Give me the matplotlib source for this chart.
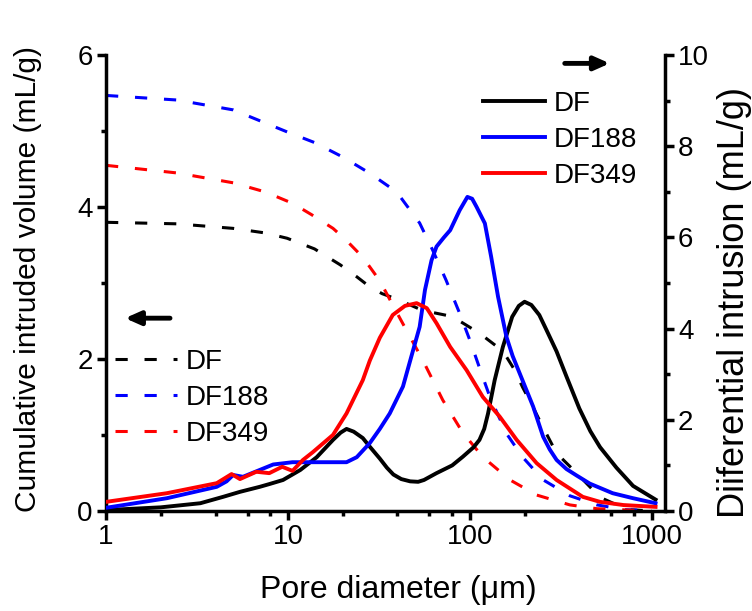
import matplotlib
matplotlib.use("Agg")
import matplotlib.pyplot as plt
from matplotlib.ticker import NullFormatter

plt.rcParams["font.family"] = ["Liberation Sans", "DejaVu Sans"]

# differential intrusion (right axis), solid lines
df_d = [1, 2, 3.3, 4.4, 5.45, 7, 7.9, 9.4, 11.7, 14.4, 17.7, 19.5, 21, 23, 25.8, 28.2,
        32, 35, 38, 42, 47, 52, 56, 65.6, 80, 91.5, 105, 113, 120, 126, 137, 152, 171,
        186, 200, 218, 241, 264, 300, 340, 400, 460, 520, 640, 790, 1050]
df_diff = [0.02, 0.08, 0.17, 0.31, 0.42, 0.53, 0.59, 0.68, 0.90, 1.18, 1.56, 1.72, 1.80,
           1.74, 1.6, 1.41, 1.15, 0.95, 0.80, 0.70, 0.65, 0.64, 0.68, 0.83, 1.0, 1.19,
           1.4, 1.56, 1.8, 2.14, 2.87, 3.6, 4.26, 4.5, 4.59, 4.52, 4.3, 3.97, 3.5, 2.95,
           2.25, 1.75, 1.4, 0.95, 0.55, 0.25]

df188_d = [1, 2.16, 4.06, 4.6, 5.0, 5.66, 7, 8.3, 10.6, 13.7, 21, 23.9, 28.2, 32, 36.3,
           42.9, 48.8, 53, 56.7, 61.6, 65.6, 72, 78, 88, 97, 103, 109, 121, 131, 143,
           159, 172, 188, 205, 223, 253, 275, 300, 340, 386, 457, 610, 790, 1050]
df188_diff = [0.07, 0.28, 0.53, 0.65, 0.79, 0.75, 0.9, 1.02, 1.07, 1.07, 1.07, 1.18,
              1.49, 1.8, 2.14, 2.73, 3.53, 4.04, 4.85, 5.5, 5.8, 6.0, 6.16, 6.6, 6.89,
              6.85, 6.67, 6.31, 5.58, 4.7, 3.82, 3.4, 3.02, 2.65, 2.29, 1.63, 1.35, 1.12,
              0.92, 0.78, 0.6, 0.39, 0.28, 0.17]

df349_d = [1, 2.16, 4.06, 4.9, 5.45, 6.7, 7.9, 9.3, 10.6, 12.1, 13.7, 17.7, 21, 25.8,
           28.2, 32, 37.7, 44, 51, 58, 65.6, 78, 96, 118, 146, 181, 233, 300, 418, 520,
           700, 1050]
df349_diff = [0.2, 0.39, 0.61, 0.81, 0.70, 0.86, 0.83, 0.97, 0.88, 1.12, 1.29, 1.67,
              2.14, 2.87, 3.3, 3.8, 4.3, 4.5, 4.56, 4.45, 4.12, 3.6, 3.09, 2.5, 2.07,
              1.56, 1.05, 0.68, 0.31, 0.2, 0.13, 0.09]

# cumulative intruded volume (left axis), dashed lines
df_cd = [1, 2.45, 5, 7.5, 9.9, 14, 19.4, 24, 28.2, 33, 39.6, 55, 80, 113, 140, 159, 177,
         195, 218, 241, 270, 300, 386, 520, 730, 1000]
df_cum = [3.80, 3.78, 3.72, 3.66, 3.59, 3.45, 3.24, 3.08, 2.95, 2.86, 2.79, 2.64, 2.56,
          2.34, 2.17, 2.03, 1.85, 1.63, 1.41, 1.2, 0.97, 0.76, 0.5, 0.18, 0.02, 0.0]

df188_cd = [1, 2.45, 5, 9.9, 14, 20, 28, 39.6, 53, 62.6, 74, 88, 100, 114, 129, 159, 195,
            253, 355, 500, 700, 1000]
df188_cum = [5.47, 5.41, 5.28, 4.99, 4.85, 4.66, 4.45, 4.2, 3.79, 3.43, 3.04, 2.6, 2.25,
             1.86, 1.5, 1.02, 0.71, 0.41, 0.2, 0.08, 0.02, 0.0]

df349_cd = [1, 2.45, 5, 7.5, 10.6, 13.5, 17.7, 21, 25.8, 32, 41, 55, 71, 91.5, 118, 166,
            233, 355, 500, 1000]
df349_cum = [4.55, 4.45, 4.32, 4.2, 4.05, 3.9, 3.72, 3.56, 3.34, 3.03, 2.55, 1.99, 1.46,
             1.03, 0.71, 0.41, 0.21, 0.08, 0.03, 0.0]

labels = ["DF", "DF188", "DF349"]
colors = ["black", "blue", "red"]

fig = plt.figure(figsize=(7.52, 6.11), dpi=100)
ax = fig.add_axes([0.141, 0.1637, 0.743, 0.746])
ax2 = ax.twinx()

dash = (0, (4, 5.5))
cum_sets = [(df_cd, df_cum), (df188_cd, df188_cum), (df349_cd, df349_cum)]
for (xd, yd), c, lab in zip(cum_sets, colors, labels):
    ax.plot(xd, yd, color=c, lw=2.2, linestyle=dash, label=lab)

diff_sets = [(df_d, df_diff), (df188_d, df188_diff), (df349_d, df349_diff)]
for (xd, yd), c, lab in zip(diff_sets, colors, labels):
    ax2.plot(xd, yd, color=c, lw=2.8, label=lab)

ax.set_xscale("log")
ax.set_xlim(1, 1180)
ax.set_ylim(0, 6)
ax2.set_ylim(0, 10)

ax.set_xticks([1, 10, 100, 1000], ["1", "10", "100", "1000"])
minor = [m * 10 ** k for k in range(3) for m in (2, 4, 6, 8)]
ax.set_xticks(minor, minor=True)
ax.xaxis.set_minor_formatter(NullFormatter())
ax.set_yticks([0, 2, 4, 6])
ax.set_yticks([1, 3, 5], minor=True)
ax2.set_yticks([0, 2, 4, 6, 8, 10])
ax2.set_yticks([1, 3, 5, 7, 9], minor=True)

for a in (ax, ax2):
    a.spines["top"].set_visible(False)
    for s in a.spines.values():
        s.set_linewidth(2.5)
    a.tick_params(which="major", direction="out", length=6.5, width=2.5,
                  labelsize=20, pad=3)
    a.tick_params(which="minor", direction="out", length=3.5, width=2.5)
ax.spines["right"].set_visible(False)
ax2.spines["left"].set_visible(False)
ax2.spines["bottom"].set_visible(False)

ax.set_xlabel("Pore diameter (\u03bcm)", fontsize=23)
ax.xaxis.set_label_coords(0.524, -0.14)
ax.set_ylabel("Cumulative intruded volume (mL/g)", fontsize=21.5)
ax.yaxis.set_label_coords(-0.115, 0.51)
ax2.set_ylabel("Diiferential intrusion (mL/g)", fontsize=26, labelpad=6)
ax2.yaxis.label.set_y(0.457)

leg_kw = dict(frameon=False, fontsize=20, handlelength=2.25, handletextpad=0.3,
              labelspacing=0.36, borderpad=0, borderaxespad=0, loc="upper left")
ax.legend(bbox_to_anchor=(0.016, 0.355), **leg_kw)
ax2.legend(bbox_to_anchor=(0.674, 0.921), **leg_kw)

# arrows pointing at the axis each family of curves belongs to
arrow = dict(arrowstyle="-|>,head_length=0.9,head_width=0.4", lw=3.5, color="black",
             shrinkA=0, shrinkB=0)
ax.annotate("", xy=(0.034, 0.423), xytext=(0.1145, 0.423),
            xycoords="axes fraction", arrowprops=arrow)
ax.annotate("", xy=(0.9016, 0.982), xytext=(0.821, 0.982),
            xycoords="axes fraction", arrowprops=arrow, annotation_clip=False)

fig.savefig("out.png", dpi=100)
